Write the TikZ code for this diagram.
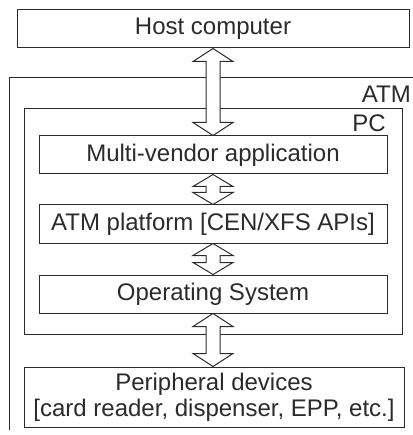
\documentclass[tikz,border=0pt]{standalone}
\usepackage{fontspec}
\setmainfont{Liberation Sans}
\usetikzlibrary{calc}
\definecolor{ink}{HTML}{2B2B2B}
\tikzset{
  box/.style={draw=ink, line width=1pt, fill=white, inner sep=0pt, text=ink,
    font=\fontsize{24}{26}\selectfont, align=center},
  lbl/.style={inner sep=0pt, text=ink, font=\fontsize{24}{26}\selectfont},
  arr/.style={draw=ink, line width=1pt, fill=white, line join=miter}
}
\newcommand\biarrow[3]{%
  \path[arr] let \p1=(#1.south), \p2=(#2.north) in
    (\x1,\y1) -- (\x1+20pt,\y1-#3) -- (\x1+7pt,\y1-#3) -- (\x1+7pt,\y2+#3)
    -- (\x1+20pt,\y2+#3) -- (\x1,\y2) -- (\x1-20pt,\y2+#3) -- (\x1-7pt,\y2+#3)
    -- (\x1-7pt,\y1-#3) -- (\x1-20pt,\y1-#3) -- cycle;}
\begin{document}
\begin{tikzpicture}[x=1pt,y=-1pt]
\useasboundingbox (0,0) rectangle (412,435);
% ATM outer frame (cropped)
\coordinate (atmbl) at (9,430);
\coordinate (atmtl) at (9,78);
\coordinate (atmtr) at (413,78);
\draw[ink, line width=1pt] (atmbl) -- (atmtl) -- (atmtr);
\node[lbl, anchor=base east] (atm) at (411,103) {ATM};
% PC frame
\node[box, minimum width=378pt, minimum height=225pt] (pc) at (213,221.5) {};
\node[lbl, anchor=base east] (pclbl) at (386,132) {PC};
% boxes
\node[box, minimum width=392pt, minimum height=38pt] (host) at (213,29) {Host computer};
\node[box, minimum width=348pt, minimum height=38pt] (mv) at (213,155) {Multi-vendor application};
\node[box, minimum width=348pt, minimum height=38pt] (plat) at (213,224) {ATM platform [CEN/XFS APIs]};
\node[box, minimum width=348pt, minimum height=38pt] (os) at (213,294) {Operating System};
\node[box, minimum width=380pt, minimum height=60pt] (per) at (214,397) {Peripheral devices\\{}[card reader, dispenser, EPP, etc.]};
% arrows
\biarrow{host}{mv}{13pt}
\biarrow{mv}{plat}{12pt}
\biarrow{plat}{os}{12pt}
\biarrow{os}{per}{13pt}
\end{tikzpicture}
\end{document}
